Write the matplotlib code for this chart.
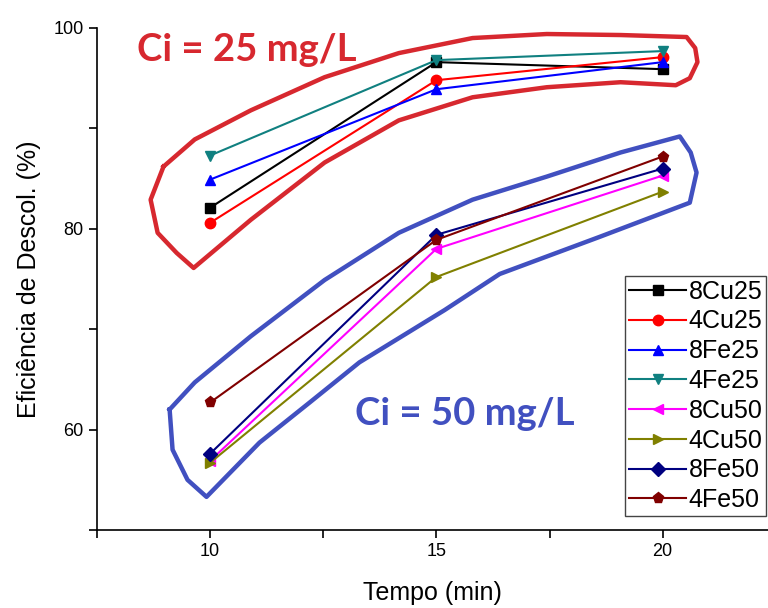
import matplotlib
matplotlib.use('Agg')
import matplotlib.pyplot as plt
from matplotlib.ticker import MultipleLocator

plt.rcParams['font.family'] = ['Liberation Sans', 'DejaVu Sans']

# data
tempo = [10, 15, 20]
series = ['8Cu25', '4Cu25', '8Fe25', '4Fe25', '8Cu50', '4Cu50', '8Fe50', '4Fe50']
ef_8cu25 = [82.1, 96.6, 95.9]
ef_4cu25 = [80.6, 94.8, 97.1]
ef_8fe25 = [84.9, 93.9, 96.6]
ef_4fe25 = [87.3, 96.8, 97.7]
ef_8cu50 = [56.9, 78.0, 85.3]
ef_4cu50 = [56.7, 75.2, 83.7]
ef_8fe50 = [57.6, 79.4, 86.0]
ef_4fe50 = [62.7, 78.9, 87.2]
valores = [ef_8cu25, ef_4cu25, ef_8fe25, ef_4fe25, ef_8cu50, ef_4cu50, ef_8fe50, ef_4fe50]

cores = ['#000000', '#FF0000', '#0000FF', '#108080', '#FF00FF', '#808000', '#000080', '#800000']
marcadores = ['s', 'o', '^', 'v', '<', '>', 'D', 'p']

# hand-drawn outlines around each group (data coords)
contorno_25_x = [8.97, 9.66, 10.9, 12.53, 14.17, 15.8, 17.44, 19.07, 20.53, 20.72, 20.77,
                 20.6, 20.29, 19.07, 17.44, 15.8, 14.17, 12.53, 10.9, 9.635,
                 9.26, 8.84, 8.685, 8.97]
contorno_25_y = [86.2, 88.9, 91.8, 95.1, 97.5, 99.0, 99.4, 99.3, 99.1, 98.0, 96.6,
                 95.0, 94.3, 94.6, 94.1, 93.1, 90.8, 86.6, 80.9, 76.1,
                 77.6, 79.6, 82.9, 86.2]
contorno_50_x = [9.105, 9.66, 10.9, 12.53, 14.17, 15.8, 17.44, 19.07, 20.38, 20.62, 20.75,
                 20.6, 18.61, 16.4, 15.18, 13.3, 12.2, 11.09, 9.92,
                 9.5, 9.17, 9.105]
contorno_50_y = [62.0, 64.7, 69.3, 74.9, 79.6, 82.9, 85.2, 87.6, 89.2, 87.6, 85.6,
                 82.6, 79.2, 75.5, 71.9, 66.7, 62.7, 58.7, 53.3,
                 55.0, 58.0, 62.0]

vermelho = '#D7282F'
azul = '#4150C0'

fig = plt.figure(figsize=(7.68, 6.08), dpi=100)
ax = fig.add_axes([97/768, 78/608, 671/768, 502/608])

ax.plot(contorno_25_x, contorno_25_y, color=vermelho, lw=3.2, solid_joinstyle='round', zorder=1)
ax.plot(contorno_50_x, contorno_50_y, color=azul, lw=3.2, solid_joinstyle='round', zorder=1)

for nome, v, c, m in zip(series, valores, cores, marcadores):
    ax.plot(tempo, v, color=c, marker=m, markersize=8 if m == 'p' else 7.5,
            lw=1.5, label=nome, zorder=3)

ax.text(10.81, 97.8, 'Ci = 25 mg/L', color=vermelho, fontsize=27.5, fontweight='bold',
        family=['Lato', 'DejaVu Sans'], ha='center', va='center')
ax.text(15.62, 61.6, 'Ci = 50 mg/L', color=azul, fontsize=27.5, fontweight='bold',
        family=['Lato', 'DejaVu Sans'], ha='center', va='center')

ax.set_xlim(7.5, 7.5 + 671/45.25)
ax.set_ylim(50, 100)
ax.xaxis.set_minor_locator(MultipleLocator(2.5))
ax.yaxis.set_minor_locator(MultipleLocator(10))
ax.set_xticks([10, 15, 20])
ax.set_yticks([60, 80, 100])
ax.tick_params(which='both', direction='out', length=6, width=1.2, labelsize=13)
ax.spines['top'].set_visible(False)
ax.spines['right'].set_visible(False)
ax.spines['left'].set_linewidth(1.2)
ax.spines['bottom'].set_linewidth(1.2)

ax.set_xlabel('Tempo (min)', fontsize=18, labelpad=15)
ax.set_ylabel('Eficiência de Descol. (%)', fontsize=18, labelpad=9)

leg = ax.legend(loc='upper right', bbox_to_anchor=(766/768, 1 - 276/608),
                bbox_transform=fig.transFigure, fontsize=18, handlelength=2.3,
                handletextpad=0.08, labelspacing=0.23, borderpad=0.15,
                fancybox=False, framealpha=1, edgecolor='#444444', borderaxespad=0)
leg.get_frame().set_linewidth(1.0)

fig.savefig('out.png', dpi=100)
